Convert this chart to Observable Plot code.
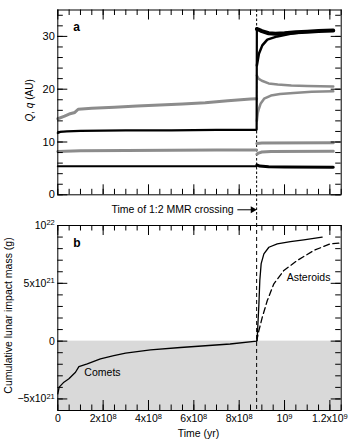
<!DOCTYPE html>
<html><head><meta charset="utf-8">
<script src="https://cdn.jsdelivr.net/npm/d3@7"></script>
<script src="https://cdn.jsdelivr.net/npm/@observablehq/plot@0.6"></script>
<style>
body{margin:0;background:#fff;}
#chart{width:356px;height:446px;}
#chart svg{display:block;}
</style></head><body><div id="chart"></div>
<script>
// ---------- DATA (time in units of 1e8 yr) ----------
const crossingTime = 8.77; // 1e8 yr
const xDomain = [0, 12.5];

// Panel a: Q, q (AU)
const outerGrayPreT = [0, 0.3, 0.5, 0.75, 0.9, 1.5, 2.5, 3.5, 4.5, 5.5, 6.5, 7.5, 8.5, 8.77];
const outerGrayPreV = [14.4, 14.9, 15.3, 15.6, 16.2, 16.4, 16.6, 16.8, 17.0, 17.2, 17.45, 17.8, 18.15, 18.2];
const outerGrayUpT = [8.78, 8.85, 9.0, 9.3, 9.7, 10.3, 11.0, 12.15];
const outerGrayUpV = [22.6, 22.0, 21.6, 21.1, 20.9, 20.7, 20.6, 20.5];
const outerGrayLowT = [8.78, 8.82, 8.87, 8.95, 9.1, 9.4, 9.8, 10.4, 11.2, 12.15];
const outerGrayLowV = [14.0, 15.5, 16.3, 17.3, 18.2, 18.8, 19.1, 19.3, 19.5, 19.6];

const blackPreT = [0, 0.1, 0.4, 1, 3, 5, 7, 8.77, 8.78];
const blackPreV = [11.7, 11.9, 12.0, 12.1, 12.2, 12.2, 12.3, 12.3, 31.3];
const blackUpT = [8.78, 8.85, 9.0, 9.3, 9.6, 10.0, 10.5, 11.0, 11.5, 12.15];
const blackUpV = [31.4, 31.3, 31.0, 30.6, 30.5, 30.6, 30.8, 30.9, 31.0, 31.1];
const blackLowT = [8.78, 8.87, 9.02, 9.24, 9.68, 10.26, 10.8];
const blackLowV = [24.5, 26.7, 28.3, 29.4, 30.0, 30.5, 30.8];

const midGrayPreT = [0, 1, 3, 5, 7, 8.77];
const midGrayPreV = [8.2, 8.35, 8.4, 8.45, 8.5, 8.5];
const midGrayUpT = [8.78, 9.0, 12.15];
const midGrayUpV = [9.7, 9.8, 9.85];
const midGrayLowT = [8.78, 8.85, 9.0, 9.4, 12.15];
const midGrayLowV = [7.7, 7.9, 8.1, 8.2, 8.25];

const innerBlackPreT = [0, 8.77];
const innerBlackPreV = [5.4, 5.4];
const innerBlackPostT = [8.78, 8.9, 9.3, 10, 12.15];
const innerBlackPostV = [5.65, 5.45, 5.3, 5.25, 5.2];

// Panel b: cumulative lunar impact mass (units of 1e21 g)
const cometT = [0, 0.06, 0.27, 0.49, 0.78, 0.93, 1.3, 1.88, 2.47, 2.99, 4.09, 5.41, 7.6, 8.77, 8.79, 8.87, 8.91, 8.97, 9.09, 9.31, 9.68, 10.26, 10.85, 11.66];
const cometV = [-4.56, -3.98, -3.55, -3.26, -2.69, -2.2, -1.97, -1.53, -1.25, -1.04, -0.75, -0.55, -0.25, 0, 0.05, 3.2, 5.24, 6.7, 7.55, 8.12, 8.41, 8.6, 8.76, 8.99];
const asteroidT = [8.77, 8.87, 9.02, 9.24, 9.53, 9.97, 10.56, 11.29, 12.03, 12.4];
const asteroidV = [0, 0.92, 2.07, 3.51, 4.96, 6.11, 6.97, 7.84, 8.42, 8.47];

// Tick labels
const xMajor = [0, 2, 4, 6, 8, 10, 12];
const xLabels = ["0", "2x10^8", "4x10^8", "6x10^8", "8x10^8", "10^9", "1.2x10^9"];
const yMajorA = [0, 10, 20, 30];
const yLabelsA = ["0", "10", "20", "30"];
const yMajorB = [-5, 0, 5, 10];
const yLabelsB = ["\u22125x10^21", "0", "5x10^21", "10^22"];

// Text
const labelA = "a", labelB = "b";
const yTitleA = "Q, q (AU)";
const yTitleB = "Cumulative lunar impact mass (g)";
const xTitle = "Time (yr)";
const crossingText = "Time of 1:2 MMR crossing";
const curveLabels = [{t: 1.97, v: -2.72, text: "Comets"}, {t: 11.06, v: 5.5, text: "Asteroids"}];

// ---------- BUILD ----------
const T = 1e8;
const rows = (t, v, k = 1) => t.map((d, i) => ({x: d * T, y: v[i] * k}));
const font = "'Liberation Sans', Arial, Helvetica, sans-serif";
const style = {fontFamily: font, fontSize: "10.5px", color: "black", background: "white", overflow: "visible"};
const xMinor = d3.range(0, 12.5 + 1e-9, 0.5).map(d => d * T);
const xMaj = xMajor.map(d => d * T);
const xLabelMap = new Map(xMaj.map((d, i) => [d, xLabels[i]]));
const gray = "#8c8c8c";

function ticks(yMaj, yMin, W, H) {
  const L = 10, l = 5.5;
  return [
    Plot.ruleX(xMinor, {x: d => d, insetTop: H - l, strokeWidth: 1}),
    Plot.ruleX(xMaj, {x: d => d, insetTop: H - L, strokeWidth: 1}),
    Plot.ruleX(xMinor, {x: d => d, insetBottom: H - l, strokeWidth: 1}),
    Plot.ruleX(xMaj, {x: d => d, insetBottom: H - L, strokeWidth: 1}),
    Plot.ruleY(yMin, {y: d => d, insetRight: W - l, strokeWidth: 1}),
    Plot.ruleY(yMaj, {y: d => d, insetRight: W - L, strokeWidth: 1}),
    Plot.ruleY(yMin, {y: d => d, insetLeft: W - l, strokeWidth: 1}),
    Plot.ruleY(yMaj, {y: d => d, insetLeft: W - L, strokeWidth: 1})
  ];
}

function fixText(svg) {
  d3.select(svg).selectAll("text").each(function () {
    const s = this.textContent;
    const el = d3.select(this);
    const m = s.match(/^(.*)\^(.+)$/);
    if (m) {
      el.text(null);
      el.append("tspan").text(m[1]);
      el.append("tspan").attr("dy", "-0.45em").attr("font-size", "0.72em").text(m[2]);
    } else if (s === yTitleA) {
      el.text(null);
      el.append("tspan").attr("font-style", "italic").text("Q");
      el.append("tspan").text(", ");
      el.append("tspan").attr("font-style", "italic").text("q");
      el.append("tspan").text(" (AU)");
    }
  });
}

// Panel a
const mA = {top: 9.5, bottom: 21.7, left: 57.3, right: 15.3};
const hA = 216, W = 356 - mA.left - mA.right, HA = hA - mA.top - mA.bottom;
const yMinorA = d3.range(0, 35, 2);
const arrowY = -2.84;
const plotA = Plot.plot({
  width: 356, height: hA,
  marginTop: mA.top, marginBottom: mA.bottom, marginLeft: mA.left, marginRight: mA.right,
  style,
  x: {domain: xDomain.map(d => d * T), axis: null},
  y: {domain: [0, 35], axis: null},
  marks: [
    Plot.ruleX([crossingTime * T], {y1: 35, y2: -4.2, stroke: "black", strokeWidth: 1, strokeDasharray: "2.5,2"}),
    Plot.line(rows(outerGrayPreT, outerGrayPreV), {x: "x", y: "y", stroke: gray, strokeWidth: 3}),
    Plot.line(rows(outerGrayUpT, outerGrayUpV), {x: "x", y: "y", stroke: gray, strokeWidth: 2.5}),
    Plot.line(rows(outerGrayLowT, outerGrayLowV), {x: "x", y: "y", stroke: gray, strokeWidth: 2.5}),
    Plot.line(rows(midGrayPreT, midGrayPreV), {x: "x", y: "y", stroke: gray, strokeWidth: 3}),
    Plot.line(rows(midGrayUpT, midGrayUpV), {x: "x", y: "y", stroke: gray, strokeWidth: 3}),
    Plot.line(rows(midGrayLowT, midGrayLowV), {x: "x", y: "y", stroke: gray, strokeWidth: 3}),
    Plot.line(rows(blackPreT, blackPreV), {x: "x", y: "y", stroke: "black", strokeWidth: 2.2}),
    Plot.line(rows(blackUpT, blackUpV), {x: "x", y: "y", stroke: "black", strokeWidth: 4}),
    Plot.line(rows(blackLowT, blackLowV), {x: "x", y: "y", stroke: "black", strokeWidth: 2.5}),
    Plot.line(rows(innerBlackPreT, innerBlackPreV), {x: "x", y: "y", stroke: "black", strokeWidth: 2}),
    Plot.line(rows(innerBlackPostT, innerBlackPostV), {x: "x", y: "y", stroke: "black", strokeWidth: 3}),
    ...ticks(yMajorA, yMinorA, W, HA),
    Plot.frame({stroke: "black", strokeWidth: 1}),
    Plot.axisY(yMajorA, {tickSize: 0, tickPadding: 3, label: null, tickFormat: d => yLabelsA[yMajorA.indexOf(d)], fontSize: 11}),
    Plot.text([labelA], {frameAnchor: "top-left", dx: 15.5, dy: 17, lineAnchor: "middle", fontWeight: "bold", fontSize: 12}),
    Plot.text([yTitleA], {frameAnchor: "left", textAnchor: "middle", dx: -28, dy: -2, rotate: -90, fontSize: 10}),
    Plot.text([crossingText], {x: crossingTime * T, y: arrowY, textAnchor: "end", dx: -23, lineAnchor: "middle", fontSize: 10.5}),
    Plot.link([0], {x1: (crossingTime - 0.85) * T, x2: (crossingTime - 0.15) * T, y1: arrowY, y2: arrowY, stroke: "black", strokeWidth: 1}),
    Plot.dot([0], {x: (crossingTime - 0.17) * T, y: arrowY, symbol: "triangle", rotate: 90, r: 2.6, fill: "black", stroke: null})
  ]
});

// Panel b
const mB = {top: 9, bottom: 36, left: 57.3, right: 15.3};
const hB = 230, HB = hB - mB.top - mB.bottom;
const yMinorB = d3.range(-6, 10.5, 1);
const plotB = Plot.plot({
  width: 356, height: hB,
  marginTop: mB.top, marginBottom: mB.bottom, marginLeft: mB.left, marginRight: mB.right,
  style,
  x: {domain: xDomain.map(d => d * T), axis: null},
  y: {domain: [-6, 10], axis: null},
  marks: [
    Plot.rect([0], {x1: xDomain[0] * T, x2: xDomain[1] * T, y1: -6, y2: 0, fill: "#d9d9d9"}),
    Plot.ruleX([crossingTime * T], {y1: 10.78, y2: -6, stroke: "black", strokeWidth: 1, strokeDasharray: "4,3"}),
    Plot.line(rows(cometT, cometV), {x: "x", y: "y", stroke: "black", strokeWidth: 1.3}),
    Plot.line(rows(asteroidT, asteroidV), {x: "x", y: "y", stroke: "black", strokeWidth: 1.3, strokeDasharray: "6,3.5"}),
    ...ticks(yMajorB, yMinorB, W, HB),
    Plot.frame({stroke: "black", strokeWidth: 1}),
    Plot.axisY(yMajorB, {tickSize: 0, tickPadding: 3, label: null, tickFormat: d => yLabelsB[yMajorB.indexOf(d)], fontSize: 10.5}),
    Plot.axisX(xMaj, {tickSize: 0, tickPadding: 4, label: null, tickFormat: d => xLabelMap.get(d), fontSize: 10.5}),
    Plot.text([labelB], {frameAnchor: "top-left", dx: 15.5, dy: 18, lineAnchor: "middle", fontWeight: "bold", fontSize: 12}),
    Plot.text([yTitleB], {frameAnchor: "left", textAnchor: "middle", dx: -49, dy: -2.5, rotate: -90, fontSize: 10.5}),
    Plot.text([xTitle], {frameAnchor: "bottom", dy: 23, dx: -1, lineAnchor: "middle", fontSize: 10.5}),
    Plot.text(curveLabels, {x: d => d.t * T, y: "v", text: "text", lineAnchor: "middle", fontSize: 10.5})
  ]
});

fixText(plotA); fixText(plotB);
document.getElementById("chart").append(plotA, plotB);
</script></body></html>
